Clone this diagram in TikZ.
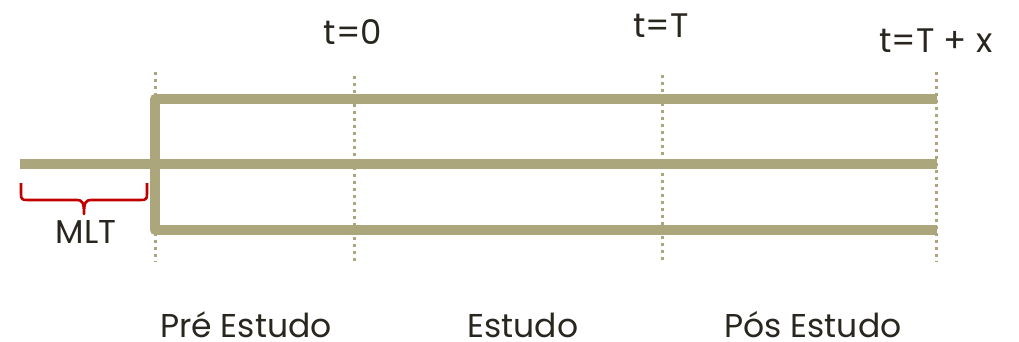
\documentclass[tikz,border=0pt]{standalone}
\usepackage{fontspec}
\setmainfont{Poppins}
\definecolor{olive}{RGB}{171,166,124}
\definecolor{ink}{RGB}{40,38,31}
\definecolor{bracered}{RGB}{192,0,0}
\tikzset{
  phase/.style={olive, line width=10pt, line join=round},
  marker/.style={olive, line width=3pt, dash pattern=on 3pt off 4pt},
  label/.style={ink, anchor=base, inner sep=0pt, text depth=0pt, font=\fontsize{33}{36}\selectfont},
}
\begin{document}
\begin{tikzpicture}[x=1pt, y=-1pt]
  \useasboundingbox (0,0) rectangle (1019,342);

  % time markers
  \coordinate (m0t) at (155,72);  \coordinate (m0b) at (155,262);
  \coordinate (m1t) at (354,76);  \coordinate (m1b) at (354,262);
  \coordinate (m2t) at (662,75);  \coordinate (m2b) at (662,262);
  \coordinate (m3t) at (936,72);  \coordinate (m3b) at (936,262);
  \foreach \m in {0,1,2,3} \draw[marker] (m\m t) -- (m\m b);

  % study arms
  \coordinate (armA) at (937,99);
  \coordinate (armB) at (937,164);
  \coordinate (armC) at (937,230);
  \coordinate (start) at (20,164);
  \draw[phase] (armA) -- (155,99) -- (155,230) -- (armC);
  \draw[phase] (start) -- (armB);

  % MLT brace
  \coordinate (bl) at (21,183);
  \coordinate (br) at (147,183);
  \coordinate (tip) at (84,214);
  \draw[bracered, line width=2.6pt, line join=round]
    (bl) -- (21,194) .. controls (21,199) and (22,200) .. (27,200)
    -- (77,200) .. controls (82,200) and (84,202) .. (tip)
    .. controls (84,202) and (86,200) .. (91,200)
    -- (141,200) .. controls (146,200) and (147,199) .. (147,194) -- (br);

  % labels
  \node[label] (mlt) at (86,243) {MLT};
  \node[label, font=\fontsize{34}{36}\selectfont] (t0) at (353,45) {t=0};
  \node[label, font=\fontsize{34}{36}\selectfont] (tT) at (661,38) {t=T};
  \node[label, font=\fontsize{34}{36}\selectfont] (tTx) at (936,53) {t=T + x};
  \node[label] (pre) at (246,337) {Pré Estudo};
  \node[label] (est) at (523,337) {Estudo};
  \node[label] (pos) at (813,337) {Pós Estudo};
\end{tikzpicture}
\end{document}
